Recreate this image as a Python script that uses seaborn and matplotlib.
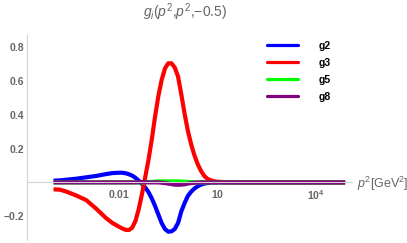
import numpy as np
import pandas as pd
import matplotlib
matplotlib.use('Agg')
import matplotlib.pyplot as plt
import seaborn as sns
from matplotlib.ticker import FixedLocator, NullFormatter

# valores (log10 de p^2)
log_p2 = [-4.0, -3.8, -3.6, -3.3, -3.0, -2.7, -2.4, -2.2,
          -2.0, -1.9, -1.8, -1.7, -1.6, -1.5, -1.4, -1.3, -1.2, -1.1,
          -1.0, -0.9, -0.8, -0.7, -0.6, -0.5, -0.4, -0.3, -0.2, -0.1,
          0.0, 0.1, 0.2, 0.3, 0.4, 0.5, 0.6, 0.7, 0.8, 0.9, 1.0,
          1.3, 1.7, 2.5, 3.5, 4.9]

g2 = [0.010, 0.012, 0.016, 0.022, 0.030, 0.038, 0.049, 0.055,
      0.057, 0.057, 0.054, 0.048, 0.040, 0.027, 0.010, -0.009, -0.030, -0.058,
      -0.095, -0.140, -0.190, -0.240, -0.275, -0.291, -0.289, -0.275, -0.240, -0.171,
      -0.122, -0.080, -0.055, -0.036, -0.023, -0.013, -0.007, -0.004, -0.002, -0.001, 0.0,
      0.0, 0.0, 0.0, 0.0, 0.0]

g3 = [-0.041, -0.043, -0.055, -0.078, -0.105, -0.155, -0.210, -0.240,
      -0.262, -0.272, -0.280, -0.281, -0.268, -0.228, -0.158, -0.068, 0.032, 0.135,
      0.255, 0.390, 0.510, 0.605, 0.672, 0.703, 0.703, 0.678, 0.625, 0.520,
      0.405, 0.305, 0.225, 0.160, 0.108, 0.068, 0.038, 0.021, 0.012, 0.007, 0.004,
      0.001, 0.0, 0.0, 0.0, 0.0]

g5 = [0.0, 0.0, 0.0, 0.0, 0.0, 0.0, 0.0, 0.0,
      0.0, 0.0, 0.0, 0.0, 0.0, 0.0, 0.0, 0.0, 0.001, 0.002,
      0.003, 0.005, 0.006, 0.006, 0.006, 0.006, 0.006, 0.006, 0.006, 0.005,
      0.004, 0.003, 0.002, 0.001, 0.0, 0.0, 0.0, 0.0, 0.0, 0.0, 0.0,
      0.0, 0.0, 0.0, 0.0, 0.0]

g8 = [0.0, 0.0, 0.0, 0.0, 0.0, 0.0, 0.0, 0.0,
      0.0, 0.0, 0.0, 0.0, 0.0, 0.0, 0.001, 0.002, 0.001, 0.0,
      0.0, 0.0, 0.0, -0.002, -0.004, -0.007, -0.010, -0.013, -0.014, -0.013,
      -0.011, -0.007, -0.004, -0.002, -0.001, 0.0, 0.0, 0.0, 0.0, 0.0, 0.0,
      0.0, 0.0, 0.0, 0.0, 0.0]

nomes = ['g2', 'g3', 'g5', 'g8']
cores = ['#0000ff', '#ff0000', '#00ff00', '#800080']

xticks_val = [1e-2, 1e1, 1e4]
xticks_lab = [r'$\mathbf{0.01}$', r'$\mathbf{10}$', r'$\mathbf{10^{4}}$']
yticks_val = [-0.2, 0.2, 0.4, 0.6, 0.8]
yticks_lab = ['\u22120.2', '0.2', '0.4', '0.6', '0.8']

# Configurações visuais
sns.set_style('white')
plt.rcParams['font.family'] = ['Liberation Sans', 'DejaVu Sans']
plt.rcParams['mathtext.fontset'] = 'custom'
plt.rcParams['mathtext.rm'] = 'Liberation Sans'
plt.rcParams['mathtext.it'] = 'Liberation Sans:italic'
plt.rcParams['mathtext.bf'] = 'Liberation Sans:bold'

cinza = '#666666'
eixo = '#d4d4d4'

df = pd.DataFrame({'p2': 10.0 ** np.array(log_p2), 'g2': g2, 'g3': g3, 'g5': g5, 'g8': g8})
df = df.melt(id_vars='p2', var_name='serie', value_name='g')

fig = plt.figure(figsize=(4.07, 2.43), dpi=100)
ax = fig.add_axes([27 / 407, 3 / 243, 325 / 407, 205 / 243])

sns.lineplot(data=df, x='p2', y='g', hue='serie', hue_order=nomes,
             palette=dict(zip(nomes, cores)), linewidth=3, sort=False,
             estimator=None, ax=ax)
for linha in ax.get_lines():
    linha.set_solid_capstyle('butt')
    linha.set_solid_joinstyle('round')

ax.set_xscale('log')
ax.set_xlim(10 ** -4.81, 10 ** 5.11)
ax.set_ylim(-0.34, 0.87)
ax.set_xlabel('')
ax.set_ylabel('')
ax.grid(False)

# eixos no estilo Mathematica
for lado in ['top', 'right']:
    ax.spines[lado].set_visible(False)
ax.spines['bottom'].set_position(('data', 0))
ax.spines['bottom'].set_color(eixo)
ax.spines['left'].set_color(eixo)
ax.spines['bottom'].set_linewidth(0.8)
ax.spines['left'].set_linewidth(0.8)

ax.set_xticks(xticks_val)
ax.set_xticklabels(xticks_lab)
ax.xaxis.set_minor_locator(FixedLocator([1e-4, 1e-3, 1e-1, 1, 1e2, 1e3, 1e5]))
ax.xaxis.set_minor_formatter(NullFormatter())
ax.set_yticks(yticks_val)
ax.set_yticklabels(yticks_lab)
ax.yaxis.set_minor_locator(FixedLocator(np.arange(-0.3, 0.86, 0.05)))
ax.yaxis.set_minor_formatter(NullFormatter())

ax.tick_params(which='both', direction='in', color=eixo, labelcolor=cinza, labelsize=7.5)
ax.tick_params(which='major', length=3, width=0.6)
ax.tick_params(which='minor', length=1.5, width=0.5)
ax.tick_params(axis='x', pad=4)
ax.tick_params(axis='y', pad=2)
for lab in ax.get_yticklabels():
    lab.set_fontweight('bold')

sns.move_legend(ax, 'upper left', bbox_to_anchor=(267 / 407, 1 - 41 / 243),
                bbox_transform=fig.transFigure, title=None, frameon=False,
                fontsize=7.5, handlelength=3.0, handletextpad=2.0,
                labelspacing=0.66, borderpad=0, borderaxespad=0)
leg = ax.get_legend()
for t in leg.get_texts():
    t.set_fontweight('bold')
    t.set_color('black')
for l in leg.get_lines():
    l.set_linewidth(2.3)

fig.text(0.455, 1 - 12 / 243, r'$g_i$($p^2$,$p^2$,' + '\u22120.5)', ha='center', va='center',
         fontsize=10, color=cinza)
fig.text(357 / 407, 1 - 184 / 243, r'$p^2$[GeV$^2$]', ha='left', va='center',
         fontsize=9, color=cinza)

fig.savefig('out.png', dpi=100)
